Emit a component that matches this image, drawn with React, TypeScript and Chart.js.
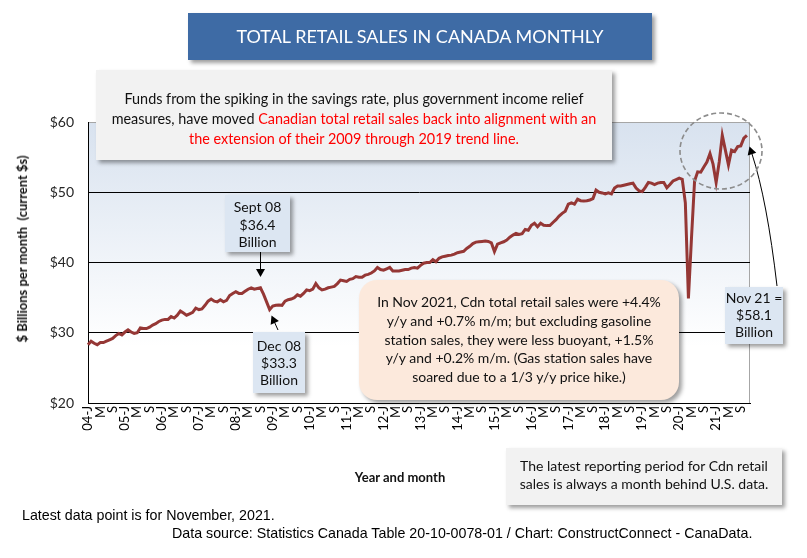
import React, { useEffect, useRef } from 'react';
import { Chart, registerables } from 'chart.js';

Chart.register(...registerables);

// ---- Data (billions of dollars, monthly, Jan 2004 – Nov 2021) ----
const years = ['04', '05', '06', '07', '08', '09', '10', '11', '12', '13', '14', '15', '16', '17', '18', '19', '20', '21'];
const monthMarks = ['J', '', '', '', 'M', '', '', '', 'S', '', '', ''];

const sales2004 = [28.3, 28.8, 28.5, 28.3, 28.6, 28.6, 28.8, 29.0, 29.2, 29.6, 29.9, 29.7];
const sales2005 = [30.1, 30.4, 30.1, 29.9, 30.0, 30.7, 30.6, 30.6, 30.8, 31.1, 31.3, 31.6];
const sales2006 = [31.8, 31.9, 31.9, 32.3, 32.1, 32.5, 33.1, 32.8, 32.5, 32.7, 32.9, 33.5];
const sales2007 = [33.3, 33.4, 33.9, 34.5, 34.8, 34.5, 34.4, 34.7, 34.4, 34.6, 35.3, 35.6];
const sales2008 = [35.85, 35.6, 35.6, 35.9, 36.2, 36.4, 36.2, 36.3, 36.4, 35.5, 34.4, 33.3];
const sales2009 = [33.8, 33.9, 33.95, 33.9, 34.5, 34.7, 34.8, 35.0, 35.4, 35.2, 35.6, 36.1];
const sales2010 = [36.0, 36.2, 37.0, 36.4, 36.1, 36.2, 36.4, 36.5, 36.6, 37.0, 37.5, 37.4];
const sales2011 = [37.3, 37.6, 37.7, 38.0, 37.9, 37.9, 38.2, 38.3, 38.5, 38.8, 39.3, 39.0];
const sales2012 = [38.9, 39.1, 39.3, 38.8, 38.8, 38.8, 38.9, 39.0, 39.0, 39.2, 39.3, 39.2];
const sales2013 = [39.6, 39.9, 40.0, 40.0, 40.4, 40.1, 40.6, 40.8, 40.9, 41.0, 41.05, 41.2];
const sales2014 = [41.4, 41.5, 41.6, 42.0, 42.3, 42.7, 42.9, 42.95, 43.0, 43.05, 43.0, 42.8];
const sales2015 = [41.55, 42.6, 42.8, 42.95, 43.2, 43.6, 43.9, 44.15, 44.0, 44.1, 44.7, 44.6];
const sales2016 = [45.3, 45.6, 45.1, 45.6, 45.3, 45.25, 45.25, 45.7, 46.1, 46.6, 47.0, 47.3];
const sales2017 = [48.3, 48.5, 48.3, 49.0, 48.8, 48.75, 48.8, 48.9, 49.1, 50.3, 50.0, 49.9];
const sales2018 = [49.75, 49.9, 49.75, 50.6, 50.9, 50.9, 51.0, 51.1, 51.2, 51.3, 50.6, 50.2];
const sales2019 = [50.1, 50.7, 51.4, 51.3, 51.1, 51.3, 51.4, 51.4, 50.65, 51.1, 51.6, 51.8];
const sales2020 = [52.0, 51.85, 48.5, 34.9, 43.5, 51.6, 52.9, 52.85, 53.6, 54.3, 55.5, 54.0];
const sales2021 = [51.4, 54.3, 58.1, 56.0, 53.9, 56.0, 55.8, 56.5, 56.6, 57.7, 58.1];

const yTickValues = [20, 30, 40, 50, 60];

const salesSeries = [
  ...sales2004, ...sales2005, ...sales2006, ...sales2007, ...sales2008, ...sales2009,
  ...sales2010, ...sales2011, ...sales2012, ...sales2013, ...sales2014, ...sales2015,
  ...sales2016, ...sales2017, ...sales2018, ...sales2019, ...sales2020, ...sales2021,
];

const categories: string[] = [];
years.forEach((yy) => {
  monthMarks.forEach((m) => {
    categories.push(m === 'J' ? `${yy}-J` : m);
  });
});

const FONT = 'Lato, "Open Sans", sans-serif';
const NARROW = '"Liberation Sans Narrow", "Liberation Sans", Arial, sans-serif';

function arrowHead(ctx: CanvasRenderingContext2D, x: number, y: number, angle: number, len = 8, w = 4.5) {
  ctx.save();
  ctx.translate(x, y);
  ctx.rotate(angle);
  ctx.beginPath();
  ctx.moveTo(0, 0);
  ctx.lineTo(-len, -w);
  ctx.lineTo(-len, w);
  ctx.closePath();
  ctx.fill();
  ctx.restore();
}

const decorPlugin = {
  id: 'decor',
  beforeDraw(chart: any) {
    const { ctx, chartArea: a } = chart;
    ctx.save();
    const g = ctx.createLinearGradient(0, a.top, 0, a.bottom);
    g.addColorStop(0, '#d8e2ef');
    g.addColorStop(0.8, '#ffffff');
    g.addColorStop(1, '#ffffff');
    ctx.fillStyle = g;
    ctx.fillRect(a.left, a.top, a.right - a.left, a.bottom - a.top);
    ctx.strokeStyle = '#a6a6a6';
    ctx.lineWidth = 1;
    ctx.beginPath();
    ctx.moveTo(a.left, a.top + 0.5);
    ctx.lineTo(a.right - 0.5, a.top + 0.5);
    ctx.lineTo(a.right - 0.5, a.bottom);
    ctx.stroke();
    ctx.restore();
  },
  afterDraw(chart: any) {
    const { ctx } = chart;
    ctx.save();
    ctx.strokeStyle = '#000';
    ctx.fillStyle = '#000';
    ctx.lineWidth = 1;
    // Sept 08 arrow
    ctx.beginPath();
    ctx.moveTo(260.5, 251);
    ctx.lineTo(260.5, 270);
    ctx.stroke();
    arrowHead(ctx, 260.5, 277, Math.PI / 2);
    // Dec 08 arrow
    ctx.beginPath();
    ctx.moveTo(278, 330);
    ctx.lineTo(273.5, 320);
    ctx.stroke();
    arrowHead(ctx, 271.5, 315.5, Math.atan2(315.5 - 330, 271.5 - 278));
    // Nov 21 curved arrow
    ctx.beginPath();
    ctx.moveTo(777, 286);
    ctx.quadraticCurveTo(767, 200, 752, 154);
    ctx.stroke();
    arrowHead(ctx, 749.5, 146.5, Math.atan2(146.5 - 200, 749.5 - 767));
    // dashed ellipse
    ctx.strokeStyle = '#8c8c8c';
    ctx.lineWidth = 1.6;
    ctx.setLineDash([5, 3]);
    ctx.beginPath();
    ctx.ellipse(721, 151, 41, 38, 0, 0, Math.PI * 2);
    ctx.stroke();
    ctx.restore();
  },
};

const boxShadow = '3px 3px 4px rgba(0,0,0,0.38)';

export default function App() {
  const ref = useRef<HTMLCanvasElement | null>(null);

  useEffect(() => {
    if (!ref.current) return;
    const chart = new Chart(ref.current, {
      type: 'line',
      data: {
        labels: [...categories.slice(0, salesSeries.length + 1)],
        datasets: [
          {
            data: salesSeries,
            borderColor: '#953735',
            borderWidth: 3,
            pointRadius: 0,
            tension: 0,
            fill: false,
          },
        ],
      },
      options: {
        animation: false,
        responsive: false,
        devicePixelRatio: 1,
        layout: { padding: { left: 0, top: 122, right: 57, bottom: 0 } },
        plugins: { legend: { display: false }, tooltip: { enabled: false } },
        scales: {
          x: {
            type: 'category',
            offset: false,
            grid: { display: false, drawTicks: false },
            border: { color: '#000', width: 1 },
            ticks: {
              autoSkip: false,
              maxRotation: 90,
              minRotation: 90,
              padding: 3,
              color: '#000',
              font: { family: FONT, size: 13 },
            },
            afterFit: (s: any) => {
              s.height = 155;
            },
          },
          y: {
            min: yTickValues[0],
            max: yTickValues[yTickValues.length - 1],
            ticks: {
              stepSize: 10,
              padding: 14,
              color: '#262626',
              font: { family: FONT, size: 14 },
              callback: (v: any) => '$' + v,
            },
            grid: {
              drawTicks: false,
              lineWidth: 1,
              color: (c: any) => (c.tick && c.tick.value === 60 ? 'rgba(0,0,0,0)' : '#000'),
            },
            border: { color: '#000', width: 1 },
            afterFit: (s: any) => {
              s.width = 88;
            },
          },
        },
      },
      plugins: [decorPlugin],
    });
    return () => chart.destroy();
  }, []);

  const base: React.CSSProperties = {
    position: 'absolute',
    fontFamily: FONT,
    color: '#111',
    textAlign: 'center',
    whiteSpace: 'nowrap',
    boxSizing: 'border-box',
  };

  return (
    <div style={{ position: 'fixed', left: 0, top: 0, width: 807, height: 558, background: '#fff', overflow: 'hidden' }}>
      <canvas ref={ref} width={807} height={558} style={{ position: 'absolute', left: 0, top: 0 }} />

      {/* Title */}
      <div
        style={{
          ...base,
          left: 188, top: 13, width: 464, height: 47,
          background: '#3e6ba5', color: '#fff', fontSize: 18, lineHeight: '47px',
          boxShadow,
        }}
      >
        TOTAL RETAIL SALES IN CANADA MONTHLY
      </div>

      {/* Top note */}
      <div
        style={{
          ...base,
          left: 96, top: 70, width: 516, height: 90,
          background: '#f2f2f2', fontSize: 14.4, lineHeight: '20px', paddingTop: 19,
          boxShadow,
        }}
      >
        <div>Funds from the spiking in the savings rate, plus government income relief</div>
        <div>
          measures, have moved <span style={{ color: '#f00' }}>Canadian total retail sales back into alignment with an</span>
        </div>
        <div style={{ color: '#f00' }}>the extension of their 2009 through 2019 trend line.</div>
      </div>

      {/* Sept 08 */}
      <div
        style={{
          ...base,
          left: 225, top: 195, width: 65, height: 57,
          background: '#dce6f2', fontSize: 14, lineHeight: '17.5px', paddingTop: 3,
          boxShadow,
        }}
      >
        <div>Sept 08</div>
        <div>$36.4</div>
        <div>Billion</div>
      </div>

      {/* Dec 08 */}
      <div
        style={{
          ...base,
          left: 253, top: 332, width: 52, height: 61,
          background: '#dce6f2', fontSize: 14, lineHeight: '17.2px', paddingTop: 5,
          boxShadow,
        }}
      >
        <div>Dec 08</div>
        <div>$33.3</div>
        <div>Billion</div>
      </div>

      {/* Peach note */}
      <div
        style={{
          ...base,
          left: 359, top: 280, width: 320, height: 120,
          background: '#fce9dc', fontSize: 14, lineHeight: '18.75px', paddingTop: 13,
          borderRadius: 18, boxShadow,
        }}
      >
        <div>In Nov 2021, Cdn total retail sales were +4.4%</div>
        <div>y/y and +0.7% m/m; but excluding gasoline</div>
        <div>station sales, they were less buoyant, +1.5%</div>
        <div>y/y and +0.2% m/m. (Gas station sales have</div>
        <div>soared due to a 1/3 y/y price hike.)</div>
      </div>

      {/* Nov 21 */}
      <div
        style={{
          ...base,
          left: 725, top: 287, width: 58, height: 57,
          background: '#dce6f2', fontSize: 14, lineHeight: '17.2px', paddingTop: 2,
          boxShadow,
        }}
      >
        <div>Nov 21 =</div>
        <div>$58.1</div>
        <div>Billion</div>
      </div>

      {/* Bottom-right note */}
      <div
        style={{
          ...base,
          left: 506, top: 448, width: 276, height: 57,
          background: '#f2f2f2', fontSize: 14, lineHeight: '18px', paddingTop: 9,
          boxShadow,
        }}
      >
        <div>The latest reporting period for Cdn retail</div>
        <div>sales is always a month behind U.S. data.</div>
      </div>

      {/* Y axis title */}
      <div style={{ ...base, left: 22, top: 249, width: 0, height: 0 }}>
        <div
          style={{
            position: 'absolute', left: 0, top: 0,
            transform: 'translate(-50%, -50%) rotate(-90deg)',
            fontWeight: 700, fontSize: 13, whiteSpace: 'pre', color: '#111',
          }}
        >
          {'$ Billions per month  (current $s)'}
        </div>
      </div>

      {/* X axis title */}
      <div style={{ ...base, left: 300, top: 468, width: 200, fontWeight: 700, fontSize: 13, lineHeight: '18px' }}>
        Year and month
      </div>

      {/* Footnotes */}
      <div
        style={{
          ...base, textAlign: 'left', left: 22, top: 506, fontSize: 15, lineHeight: '18px',
          fontFamily: NARROW, color: '#000', transform: 'scaleX(0.95)', transformOrigin: 'left center',
        }}
      >
        Latest data point is for November, 2021.
      </div>
      <div
        style={{
          ...base, textAlign: 'left', left: 172, top: 524, fontSize: 15, lineHeight: '18px',
          fontFamily: NARROW, color: '#000', transform: 'scaleX(0.95)', transformOrigin: 'left center',
        }}
      >
        Data source: Statistics Canada Table 20-10-0078-01 / Chart: ConstructConnect - CanaData.
      </div>
    </div>
  );
}
